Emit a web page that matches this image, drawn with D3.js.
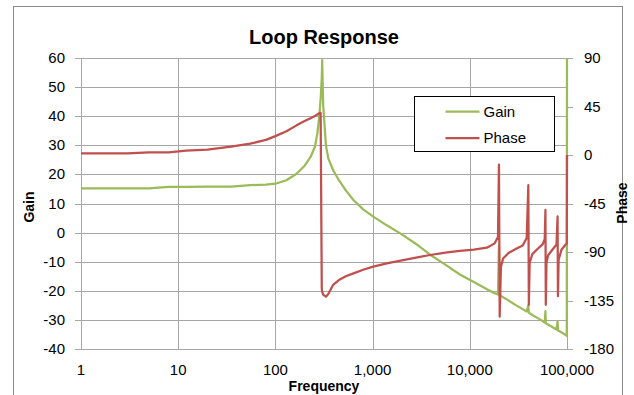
<!DOCTYPE html>
<html>
<head>
<meta charset="utf-8">
<script src="https://cdn.jsdelivr.net/npm/d3@7"></script>
<style>
  body { margin: 0; background: #fff; }
  text { font-family: "Liberation Sans", Arial, sans-serif; fill: #000; }
</style>
</head>
<body>
<div id="chart"></div>
<script>
// values
var freq  = [1, 3, 5, 8, 12, 20, 35, 55, 80, 100,
             130, 165, 200, 230, 255, 270, 283, 292, 300, 303,
             310, 331, 350, 392, 450, 530, 635, 800, 1015, 1400,
             2000, 2800, 3900, 5600, 7900, 11000, 15000, 18000, 19500, 19950,
             20300, 20900, 22000, 25000, 30000, 35000, 38500, 40000, 40500, 41300,
             44000, 50000, 56000, 59000, 60000, 60500, 61500, 64000, 72000, 78000,
             80000, 80700, 82000, 88000, 95000, 99500, 100000];
var gain  = [15.2, 15.2, 15.2, 15.7, 15.7, 15.8, 15.8, 16.3, 16.5, 16.8,
             18.0, 20.2, 23.0, 26.0, 29.5, 34.0, 40.0, 46.0, 53.0, 59.3,
             44.0, 30.0, 25.5, 21.5, 18.0, 14.5, 11.2, 8.0, 5.5, 2.5,
             -0.6, -3.9, -7.6, -11.0, -14.4, -17.0, -19.5, -20.8, -21.3, -4.5,
             -21.5, -21.8, -22.2, -23.3, -25.0, -26.3, -27.1, -25.0, -27.5, -27.7,
             -28.3, -29.4, -30.4, -30.9, -27.0, -31.1, -31.3, -31.6, -32.6, -33.3,
             -30.5, -33.6, -33.7, -34.3, -35.0, -35.5, 60];
var phase = [1.5, 1.5, 2.5, 2.5, 4, 5, 7.7, 10.5, 14, 17.5,
             22, 27.5, 31.5, 34.2, 36.3, 37.6, 38.7, 39, -124, -127,
             -129.5, -131.5, -129, -120.6, -116, -112.5, -109.8, -106.5, -103.6, -100.5,
             -97.8, -95.2, -92.8, -90.5, -89, -87.8, -86, -82, -76, -9,
             -150, -104, -96, -91, -87, -84, -77, -28, -139, -100,
             -92, -87, -83, -78, -51, -139, -100, -93, -87, -83,
             -57, -131, -97, -87.6, -84, -82, 0];

var freqTicks  = [1, 10, 100, 1000, 10000, 100000];
var gainTicks  = [-40, -30, -20, -10, 0, 10, 20, 30, 40, 50, 60];
var phaseTicks = [-180, -135, -90, -45, 0, 45, 90];

var width = 634,
    height = 395,
    plot = {left: 81, right: 567, top: 58, bottom: 349},
    gridColor = "#a6a6a6",
    gainColor = "#9bbb59",
    phaseColor = "#c0504d";

var x = d3.scaleLog()
          .domain([1, 100000])
          .range([plot.left, plot.right]),
    yGain = d3.scaleLinear()
          .domain([-40, 60])
          .range([plot.bottom, plot.top]),
    yPhase = d3.scaleLinear()
          .domain([-180, 90])
          .range([plot.bottom, plot.top]);

var svg = d3.select("#chart").append("svg")
      .attr("width", width)
      .attr("height", height);

// chart frame
svg.append("rect")
    .attr("x", 13.5).attr("y", 6.5)
    .attr("width", 609).attr("height", 400)
    .attr("fill", "#fff")
    .attr("stroke", "#898989");

// gridlines
svg.append("g")
    .selectAll("line")
    .data(gainTicks).enter()
    .append("line")
      .attr("x1", plot.left - 6)
      .attr("x2", plot.right)
      .attr("y1", function(d){ return Math.round(yGain(d)) + 0.5; })
      .attr("y2", function(d){ return Math.round(yGain(d)) + 0.5; })
      .attr("stroke", gridColor);

svg.append("g")
    .selectAll("line")
    .data(freqTicks).enter()
    .append("line")
      .attr("x1", function(d){ return Math.round(x(d)) + 0.5; })
      .attr("x2", function(d){ return Math.round(x(d)) + 0.5; })
      .attr("y1", plot.top)
      .attr("y2", plot.bottom)
      .attr("stroke", gridColor);

// right axis with outside ticks
svg.append("g")
    .selectAll("line")
    .data(phaseTicks).enter()
    .append("line")
      .attr("x1", plot.right)
      .attr("x2", plot.right + 6)
      .attr("y1", function(d){ return Math.round(yPhase(d)) + 0.5; })
      .attr("y2", function(d){ return Math.round(yPhase(d)) + 0.5; })
      .attr("stroke", gridColor);

// tick labels
svg.append("g")
    .selectAll("text")
    .data(gainTicks).enter()
    .append("text")
      .attr("x", 65)
      .attr("y", function(d){ return yGain(d) + 5; })
      .attr("text-anchor", "end")
      .style("font-size", "15px")
      .text(function(d){ return d; });

svg.append("g")
    .selectAll("text")
    .data(phaseTicks).enter()
    .append("text")
      .attr("x", 584)
      .attr("y", function(d){ return yPhase(d) + 5; })
      .style("font-size", "15px")
      .text(function(d){ return d; });

svg.append("g")
    .selectAll("text")
    .data(freqTicks).enter()
    .append("text")
      .attr("x", function(d){ return x(d); })
      .attr("y", 375)
      .attr("text-anchor", "middle")
      .style("font-size", "15px")
      .text(function(d){ return d3.format(",")(d); });

// axis titles
svg.append("text")
    .attr("x", 324).attr("y", 44)
    .attr("text-anchor", "middle")
    .style("font-size", "20px")
    .style("font-weight", "bold")
    .text("Loop Response");

svg.append("text")
    .attr("x", 324).attr("y", 391)
    .attr("text-anchor", "middle")
    .style("font-size", "14px")
    .style("font-weight", "bold")
    .text("Frequency");

svg.append("text")
    .attr("transform", "translate(34,207) rotate(-90)")
    .attr("text-anchor", "middle")
    .style("font-size", "14px")
    .style("font-weight", "bold")
    .text("Gain");

svg.append("text")
    .attr("transform", "translate(627,203) rotate(-90)")
    .attr("text-anchor", "middle")
    .style("font-size", "14px")
    .style("font-weight", "bold")
    .text("Phase");

// series
var gainData = freq.map(function(f, i){ return {f: f, v: gain[i]}; }),
    phaseData = freq.map(function(f, i){ return {f: f, v: phase[i]}; });

svg.append("path")
    .datum(gainData)
    .attr("fill", "none")
    .attr("stroke", gainColor)
    .attr("stroke-width", 2.25)
    .attr("stroke-linejoin", "round")
    .attr("d", d3.line()
        .x(function(d){ return x(d.f); })
        .y(function(d){ return yGain(d.v); }));

svg.append("path")
    .datum(phaseData)
    .attr("fill", "none")
    .attr("stroke", phaseColor)
    .attr("stroke-width", 2.25)
    .attr("stroke-linejoin", "round")
    .attr("d", d3.line()
        .x(function(d){ return x(d.f); })
        .y(function(d){ return yPhase(d.v); }));

// legend
var legend = svg.append("g")
    .attr("transform", "translate(414.5,96.5)");

legend.append("rect")
    .attr("width", 140)
    .attr("height", 55)
    .attr("fill", "#fff")
    .attr("stroke", "#000");

legend.selectAll("g")
    .data([{name: "Gain", color: gainColor}, {name: "Phase", color: phaseColor}])
    .enter().append("g")
      .attr("transform", function(d, i){ return "translate(0," + (15 + i * 26.5) + ")"; })
      .each(function(d){
        var g = d3.select(this);
        g.append("line")
          .attr("x1", 31).attr("x2", 65)
          .attr("stroke", d.color)
          .attr("stroke-width", 2.25);
        g.append("text")
          .attr("x", 69).attr("y", 5)
          .style("font-size", "15px")
          .text(d.name);
      });
</script>
</body>
</html>
